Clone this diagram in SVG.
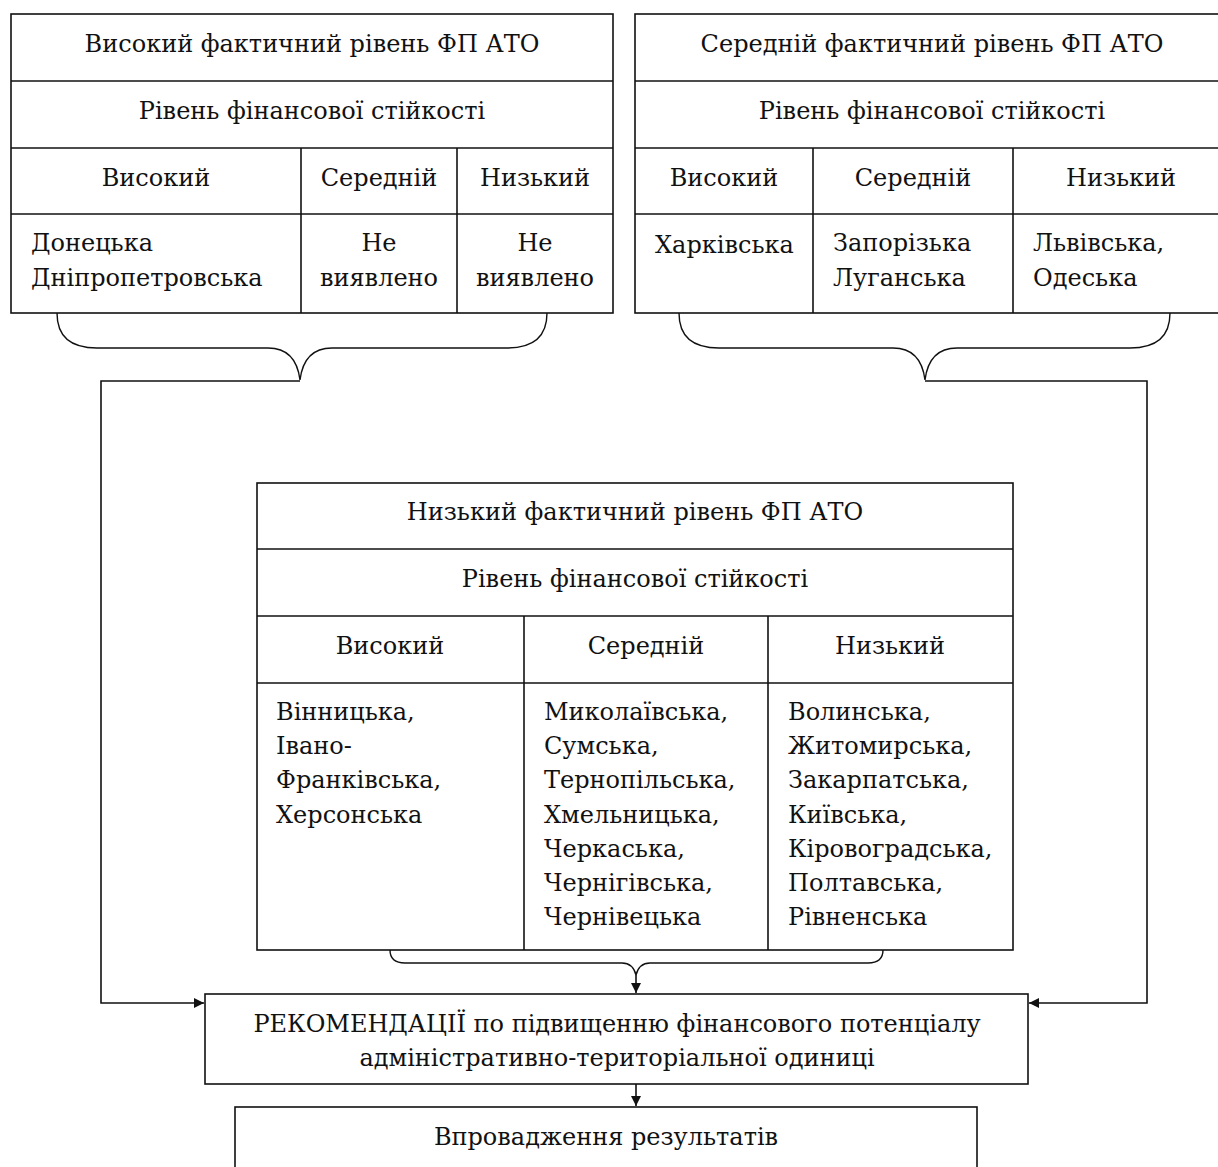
<svg xmlns="http://www.w3.org/2000/svg" width="1218" height="1167" viewBox="0 0 1218 1167">
<defs>
<marker id="arr" viewBox="0 0 10 10" refX="10" refY="5" markerWidth="10" markerHeight="10" markerUnits="userSpaceOnUse" orient="auto">
<path d="M0,0 L10,5 L0,10 z" fill="#111"/>
</marker>
<style>
.cell{fill:#fff;stroke:#111;stroke-width:1.6}
.ln{stroke:#111;stroke-width:1.6;fill:none}
text{font-family:"DejaVu Serif","Liberation Serif",serif;font-size:24px;fill:#111}
.c{text-anchor:middle}
.br{fill:none;stroke:#111;stroke-width:1.4}
</style>
</defs>
<rect width="1218" height="1167" fill="#fff"/>

<g id="high-table">
<rect class="cell" x="11" y="14" width="602" height="299"/>
<line class="ln" x1="11" y1="81" x2="613" y2="81"/>
<line class="ln" x1="11" y1="148" x2="613" y2="148"/>
<line class="ln" x1="11" y1="214" x2="613" y2="214"/>
<line class="ln" x1="301" y1="148" x2="301" y2="313"/>
<line class="ln" x1="457" y1="148" x2="457" y2="313"/>
<text class="c" x="312" y="52">Високий фактичний рівень ФП АТО</text>
<text class="c" x="312" y="119">Рівень фінансової стійкості</text>
<text class="c" x="156" y="186">Високий</text>
<text class="c" x="379" y="186">Середній</text>
<text class="c" x="535" y="186">Низький</text>
<text x="31" y="251">Донецька</text>
<text x="31" y="286">Дніпропетровська</text>
<text class="c" x="379" y="251">Не</text>
<text class="c" x="379" y="286">виявлено</text>
<text class="c" x="535" y="251">Не</text>
<text class="c" x="535" y="286">виявлено</text>
</g>

<g id="medium-table">
<rect class="cell" x="635" y="14" width="594" height="299"/>
<line class="ln" x1="635" y1="81" x2="1229" y2="81"/>
<line class="ln" x1="635" y1="148" x2="1229" y2="148"/>
<line class="ln" x1="635" y1="214" x2="1229" y2="214"/>
<line class="ln" x1="813" y1="148" x2="813" y2="313"/>
<line class="ln" x1="1013" y1="148" x2="1013" y2="313"/>
<text class="c" x="932" y="52">Середній фактичний рівень ФП АТО</text>
<text class="c" x="932" y="119">Рівень фінансової стійкості</text>
<text class="c" x="724" y="186">Високий</text>
<text class="c" x="913" y="186">Середній</text>
<text class="c" x="1121" y="186">Низький</text>
<text x="655" y="253">Харківська</text>
<text x="833" y="251">Запорізька</text>
<text x="833" y="286">Луганська</text>
<text x="1033" y="251">Львівська,</text>
<text x="1033" y="286">Одеська</text>
</g>

<g id="low-table">
<rect class="cell" x="257" y="483" width="756" height="467"/>
<line class="ln" x1="257" y1="549" x2="1013" y2="549"/>
<line class="ln" x1="257" y1="616" x2="1013" y2="616"/>
<line class="ln" x1="257" y1="683" x2="1013" y2="683"/>
<line class="ln" x1="524" y1="616" x2="524" y2="950"/>
<line class="ln" x1="768" y1="616" x2="768" y2="950"/>
<text class="c" x="635" y="520">Низький фактичний рівень ФП АТО</text>
<text class="c" x="635" y="587">Рівень фінансової стійкості</text>
<text class="c" x="390" y="654">Високий</text>
<text class="c" x="646" y="654">Середній</text>
<text class="c" x="890" y="654">Низький</text>
<text x="276" y="720">Вінницька,</text>
<text x="276" y="754">Івано-</text>
<text x="276" y="788">Франківська,</text>
<text x="276" y="823">Херсонська</text>
<text x="544" y="720">Миколаївська,</text>
<text x="544" y="754">Сумська,</text>
<text x="544" y="788">Тернопільська,</text>
<text x="544" y="823">Хмельницька,</text>
<text x="544" y="857">Черкаська,</text>
<text x="544" y="891">Чернігівська,</text>
<text x="544" y="925">Чернівецька</text>
<text x="788" y="720">Волинська,</text>
<text x="788" y="754">Житомирська,</text>
<text x="788" y="788">Закарпатська,</text>
<text x="788" y="823">Київська,</text>
<text x="788" y="857">Кіровоградська,</text>
<text x="788" y="891">Полтавська,</text>
<text x="788" y="925">Рівненська</text>
</g>

<g id="recommendations">
<rect class="cell" x="205" y="994" width="823" height="90"/>
<text class="c" x="617" y="1032">РЕКОМЕНДАЦІЇ по підвищенню фінансового потенціалу</text>
<text class="c" x="617" y="1066">адміністративно-територіальної одиниці</text>
</g>

<g id="implementation">
<rect class="cell" x="235" y="1107" width="742" height="80"/>
<text class="c" x="606" y="1145">Впровадження результатів</text>
</g>

<g id="connectors">
<path class="br" d="M57,313 Q57,348 97,348 L268,348 Q296,348 300,380 Q304,348 332,348 L507,348 Q547,348 547,313"/>
<path class="br" d="M679,313 Q679,348 719,348 L893,348 Q921,348 925,380 Q929,348 957,348 L1130,348 Q1170,348 1170,313"/>
<path class="br" d="M390,950 Q390,963 405,963 L622,963 Q633,963 636,975 Q639,963 650,963 L868,963 Q883,963 883,950"/>
<path class="ln" d="M300,381 H101 V1003 H204" marker-end="url(#arr)"/>
<path class="ln" d="M925,381 H1147 V1003 H1029" marker-end="url(#arr)"/>
<path class="ln" d="M636,975 V993" marker-end="url(#arr)"/>
<path class="ln" d="M636,1084 V1106" marker-end="url(#arr)"/>
</g>
</svg>
